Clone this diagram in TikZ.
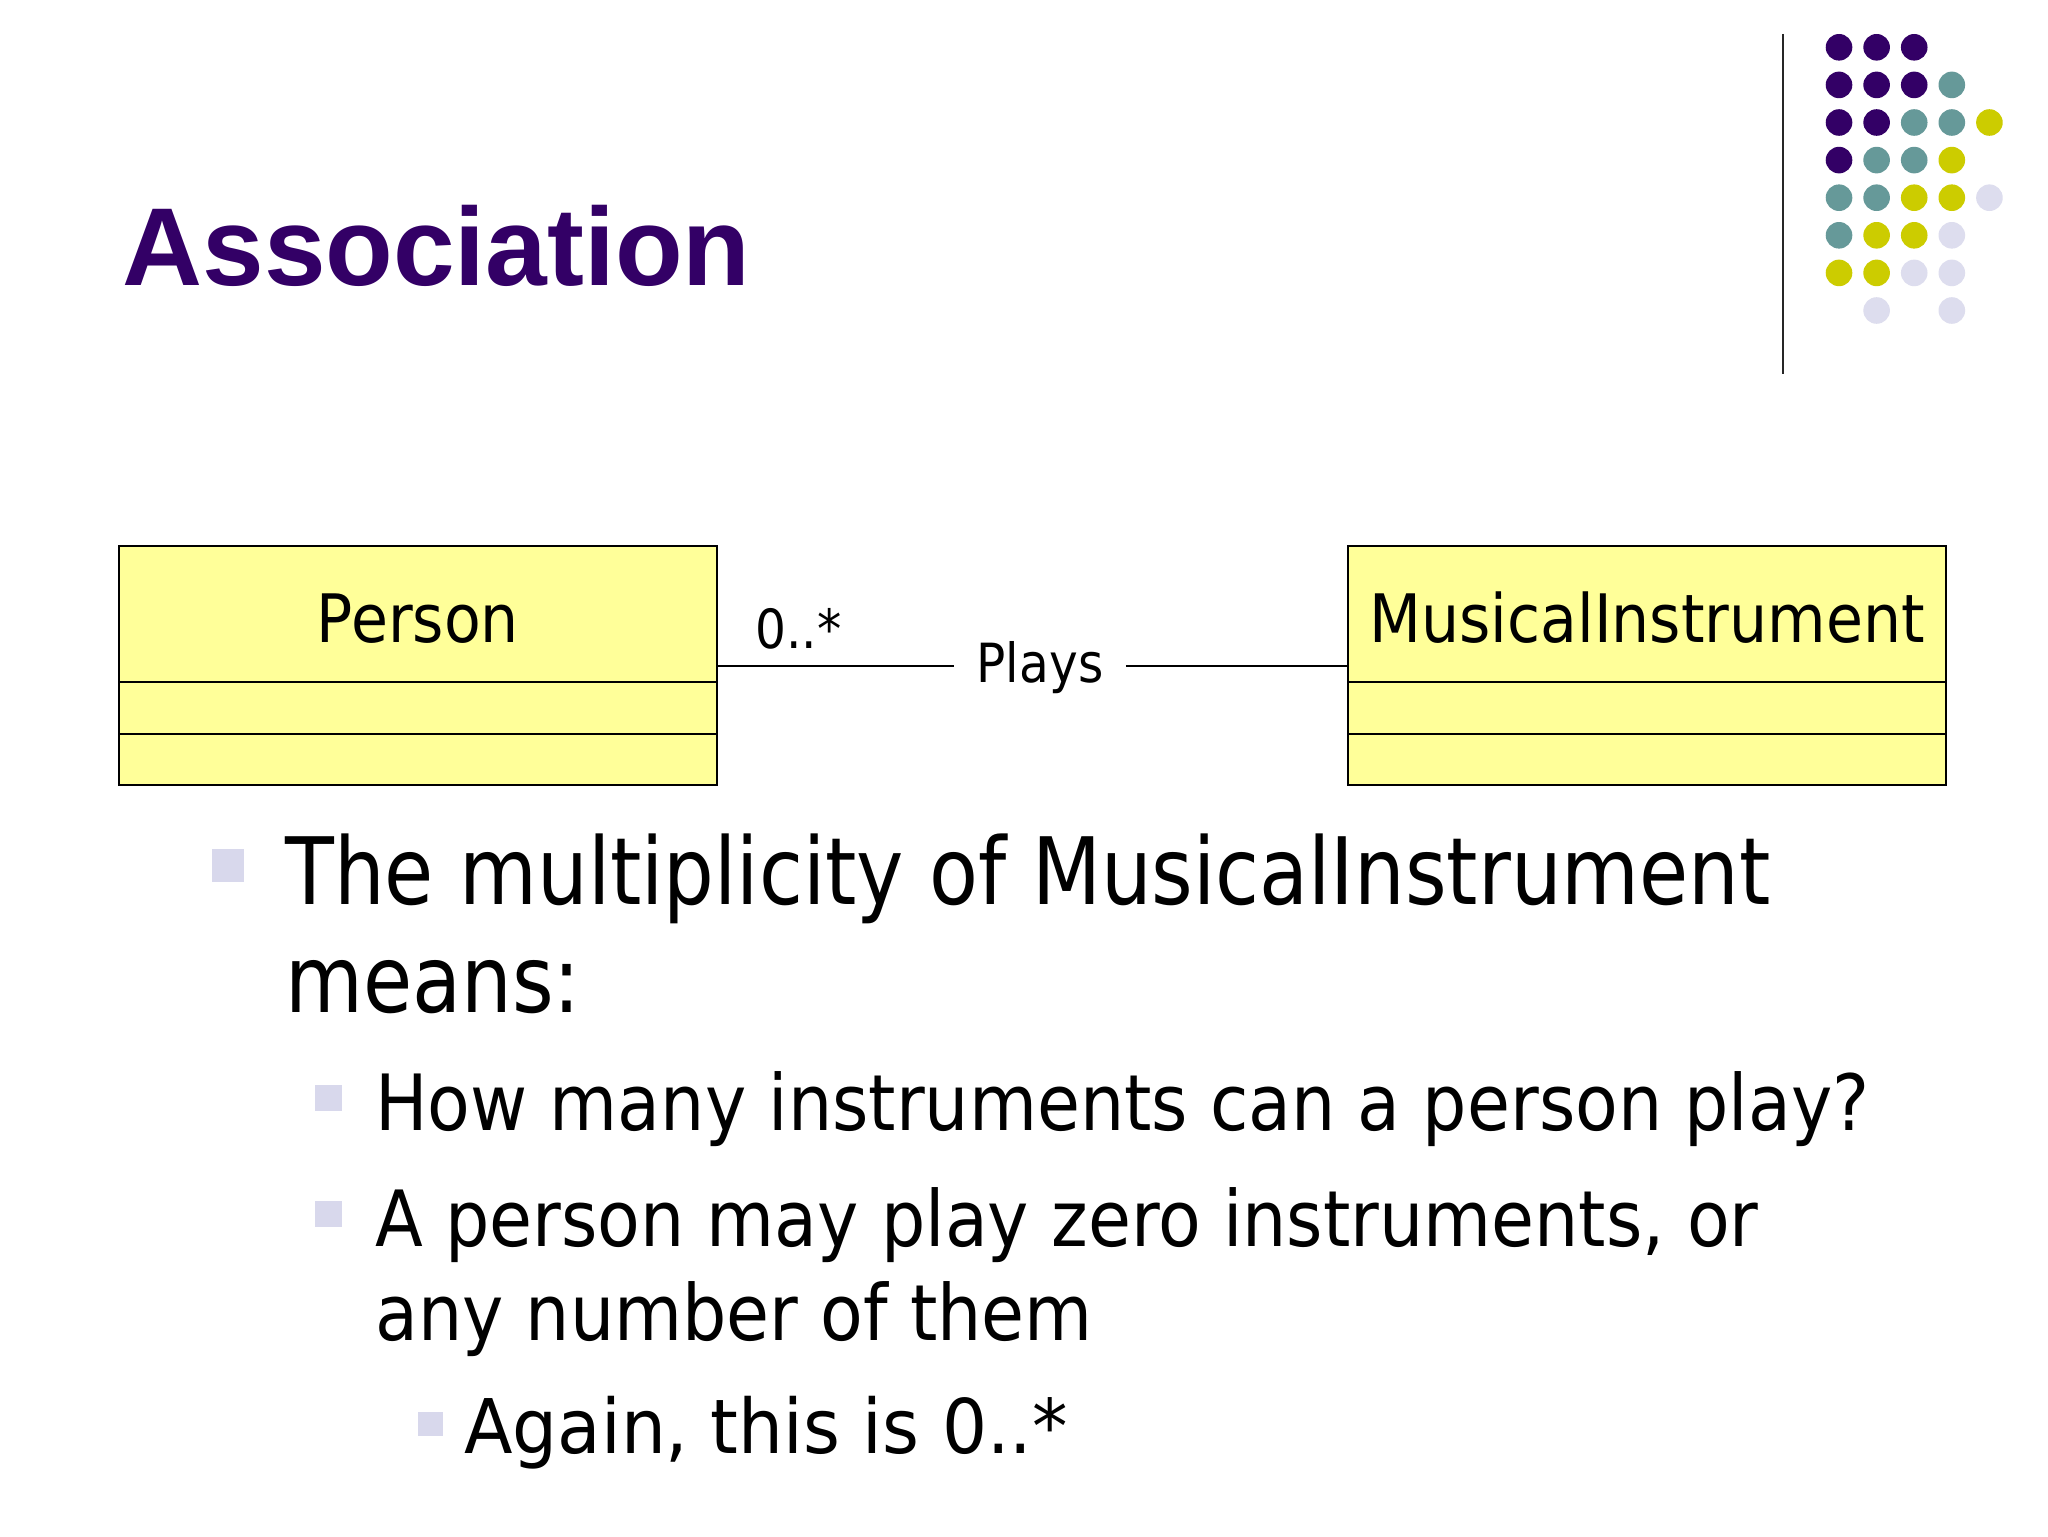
\documentclass[tikz,border=0pt]{standalone}
\usepackage{fontspec}
\setmainfont{DejaVu Sans}
\newfontfamily\bodyfont[FakeStretch=0.9]{DejaVu Sans}
\newfontfamily\bodyfontA[FakeStretch=0.86]{DejaVu Sans}
\newfontfamily\bodyfontC[FakeStretch=0.94]{DejaVu Sans}
\newfontfamily\titlefont{Liberation Sans}
\definecolor{titlepurple}{RGB}{51,0,102}
\definecolor{dotpurple}{RGB}{51,0,102}
\definecolor{dotteal}{RGB}{102,153,153}
\definecolor{dotyellow}{RGB}{204,204,0}
\definecolor{dotlav}{RGB}{221,221,238}
\definecolor{bulletcol}{RGB}{216,216,236}
\definecolor{umlyellow}{RGB}{255,255,153}
\tikzset{
  umlbox/.style={draw=black, fill=umlyellow, line width=1pt, inner sep=0pt,
    minimum width=299pt, minimum height=119.5pt},
  umlsep/.style={draw=black, line width=0.9pt},
  umltext/.style={anchor=base, inner sep=0pt, font=\bodyfont\fontsize{33.4pt}{36pt}\selectfont},
  assoc/.style={draw=black, line width=1pt},
  smalllbl/.style={inner sep=0pt, font=\bodyfont\fontsize{27pt}{30pt}\selectfont},
  lvlone/.style={anchor=base west, inner sep=0pt, font=\bodyfontA\fontsize{46.5pt}{50pt}\selectfont},
  lvltwo/.style={anchor=base west, inner sep=0pt, font=\bodyfont\fontsize{38.8pt}{42pt}\selectfont},
  lvlthree/.style={anchor=base west, inner sep=0pt, font=\bodyfontC\fontsize{37.7pt}{40pt}\selectfont},
  bulletsq/.style={fill=bulletcol, inner sep=0pt, draw=none},
  dot/.style={inner sep=0pt, minimum size=13.3pt, circle, draw=none}
}
\begin{document}
\begin{tikzpicture}[x=0.5pt,y=-0.5pt]
\useasboundingbox (0,0) rectangle (2048,1536);
\fill[white] (0,0) rectangle (2048,1536);

% title
\node[anchor=base west, inner sep=0pt, text=titlepurple,
  font=\titlefont\bfseries\fontsize{55.4pt}{60pt}\selectfont] (title) at (122,285) {Association};

% decorative vertical rule
\draw[line width=1.1pt, black!85] (1783,34) -- (1783,374);

% dots grid
\foreach \c/\r/\col in {0/0/dotpurple,1/0/dotpurple,2/0/dotpurple,
  0/1/dotpurple,1/1/dotpurple,2/1/dotpurple,3/1/dotteal,
  0/2/dotpurple,1/2/dotpurple,2/2/dotteal,3/2/dotteal,4/2/dotyellow,
  0/3/dotpurple,1/3/dotteal,2/3/dotteal,3/3/dotyellow,
  0/4/dotteal,1/4/dotteal,2/4/dotyellow,3/4/dotyellow,4/4/dotlav,
  0/5/dotteal,1/5/dotyellow,2/5/dotyellow,3/5/dotlav,
  0/6/dotyellow,1/6/dotyellow,2/6/dotlav,3/6/dotlav,
  1/7/dotlav,3/7/dotlav}{
  \node[dot, fill=\col] (d\c\r) at ({1839+37.6*\c},{47.3+37.6*\r}) {};
}

% UML boxes
\node[umlbox] (person) at (418,665.5) {};
\node[umlbox] (instr) at (1647,665.5) {};
\draw[umlsep] (119,682) -- (717,682);
\draw[umlsep] (119,734) -- (717,734);
\draw[umlsep] (1348,682) -- (1946,682);
\draw[umlsep] (1348,734) -- (1946,734);
\node[umltext] (personlbl) at (418,642) {Person};
\node[umltext] (instrlbl) at (1647,642) {MusicalInstrument};

% association
\node[smalllbl, anchor=base, inner xsep=11pt] (plays) at (1040,682) {Plays};
\node[smalllbl, anchor=base west] (mult) at (755,648) {0..*};
\draw[assoc] (person.east) -- (person.east -| plays.west);
\draw[assoc] (instr.west -| plays.east) -- (instr.west);

% bullets
\node[bulletsq, minimum width=16pt, minimum height=16.5pt] (b1) at (228,865.5) {};
\node[lvlone] (t1a) at (285,904) {The multiplicity of MusicalInstrument};
\node[lvlone] (t1b) at (285,1012) {means:};
\node[bulletsq, minimum width=13.5pt, minimum height=13pt] (b2) at (328,1098) {};
\node[lvltwo] (t2) at (375,1130) {How many instruments can a person play?};
\node[bulletsq, minimum width=13.5pt, minimum height=13pt] (b3) at (328,1214) {};
\node[lvltwo] (t3a) at (375,1246) {A person may play zero instruments, or};
\node[lvltwo] (t3b) at (375,1340) {any number of them};
\node[bulletsq, minimum width=12.5pt, minimum height=12pt] (b4) at (430.5,1424) {};
\node[lvlthree] (t4) at (464,1453) {Again, this is 0..*};
\end{tikzpicture}
\end{document}
